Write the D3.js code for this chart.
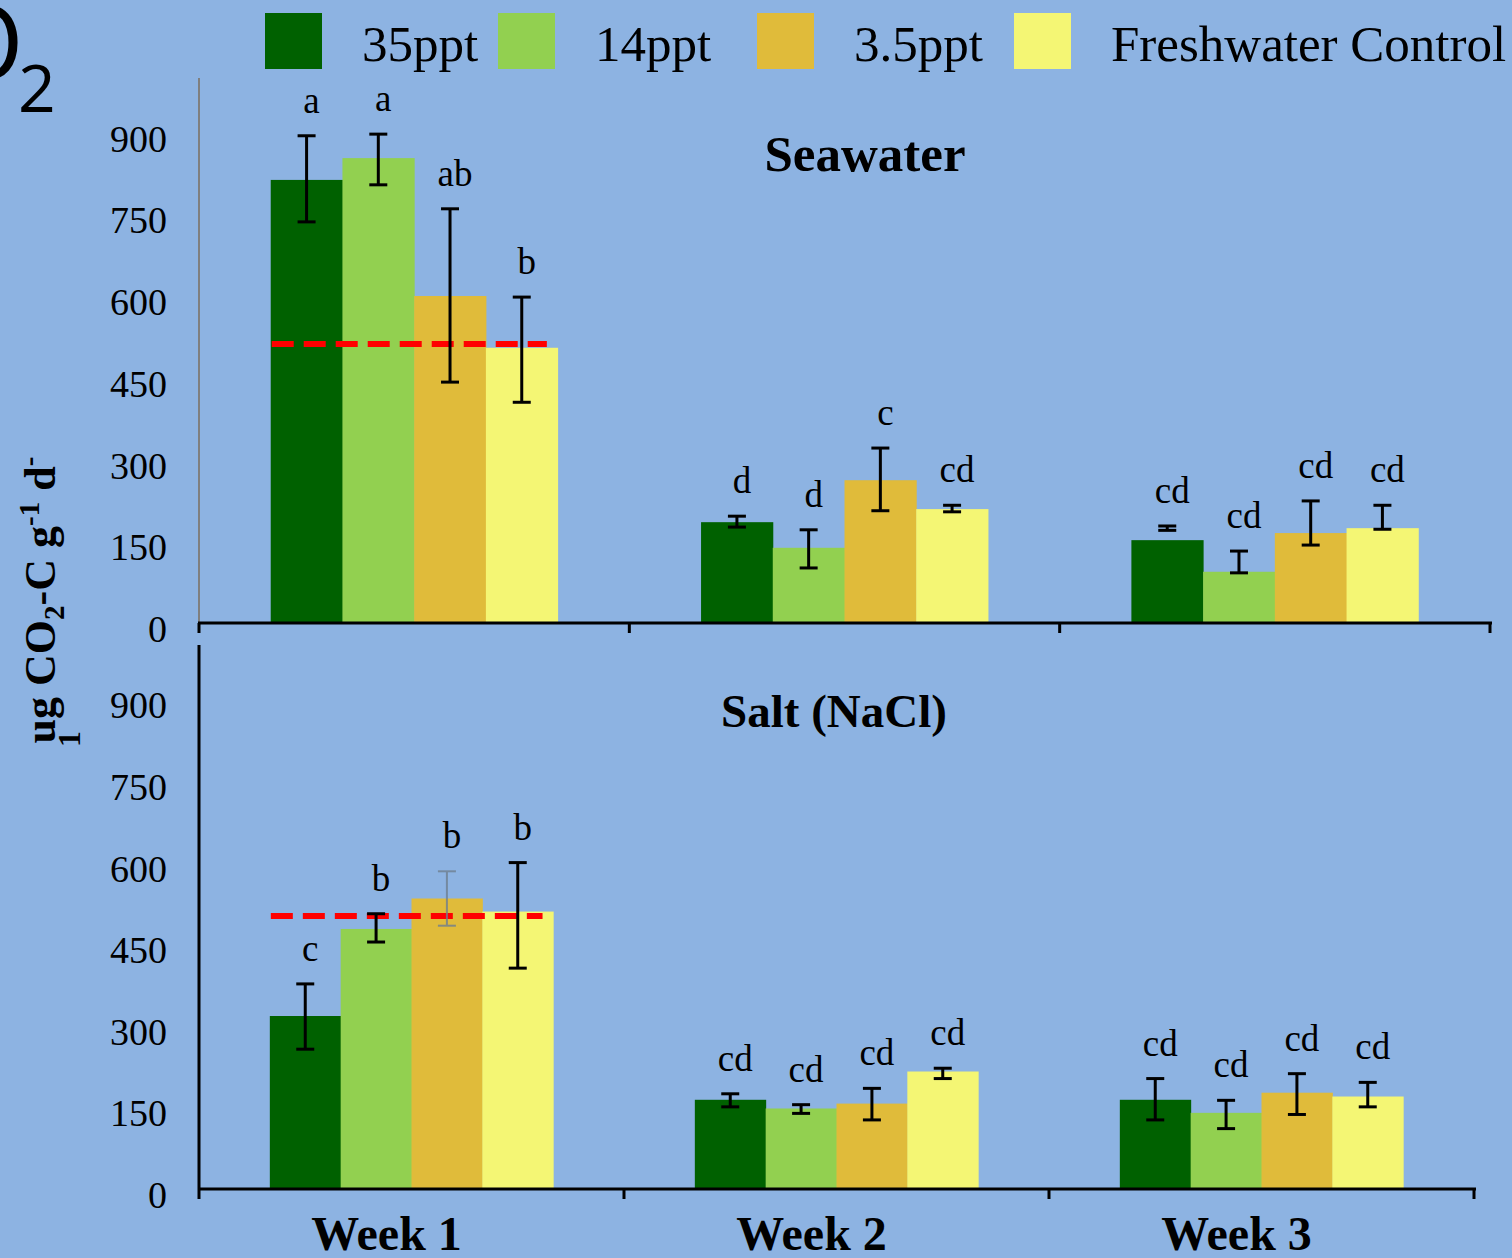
<!DOCTYPE html>
<html><head><meta charset="utf-8">
<script src="https://cdn.jsdelivr.net/npm/d3@7"></script>
<style>
html,body{margin:0;padding:0;background:#8DB3E2;}
svg{display:block;}
</style></head>
<body>
<svg id="chart" width="1512" height="1258"></svg>
<script>
// ---- data ----
const weeks = ["Week 1", "Week 2", "Week 3"];
const series = ["35ppt", "14ppt", "3.5ppt", "Freshwater Control"];
const colors = ["#006100", "#92D050", "#E0BB3A", "#F4F674"];
const yTicks = [0, 150, 300, 450, 600, 750, 900];

// Seawater panel (rows = weeks, columns = series)
const seaMeans = [[813, 853, 600, 505], [185, 138, 262, 209], [152, 94, 165, 174]];
const seaErrHi = [[894, 897, 760, 598], [196, 171, 321, 216], [178, 132, 224, 216]];
const seaErrLo = [[736, 804, 442, 405], [176, 101, 206, 204], [170, 92, 143, 172]];
const seaLetters = [["a", "a", "ab", "b"], ["d", "d", "c", "cd"], ["cd", "cd", "cd", "cd"]];
const seaRef = 512;

// Salt (NaCl) panel
const saltMeans = [[318, 478, 534, 510], [164, 148, 157, 216], [164, 140, 177, 170]];
const saltErrHi = [[377, 506, 584, 600], [175, 155, 185, 222], [203, 163, 212, 196]];
const saltErrLo = [[257, 454, 484, 406], [151, 139, 127, 203], [127, 111, 137, 151]];
const saltLetters = [["c", "b", "b", "b"], ["cd", "cd", "cd", "cd"], ["cd", "cd", "cd", "cd"]];
const saltRef = 502;

// ---- drawing ----
const svg = d3.select("#chart");
const SERIF = "'Liberation Serif', 'Times New Roman', serif";

svg.append("rect").attr("width", 1512).attr("height", 1258).attr("fill", "#8DB3E2");

function panel(opt) {
  const g = svg.append("g");
  const x0 = d3.scaleBand().domain(weeks).range([opt.left, opt.right]).padding(0);
  const x1 = d3.scaleBand().domain(series).range([0, x0.bandwidth()]).paddingInner(0).paddingOuter(1);
  const y = d3.scaleLinear().domain([0, 1000]).range([opt.base, opt.top]);

  // y axis line
  g.append("line").attr("x1", opt.left).attr("x2", opt.left)
    .attr("y1", opt.top).attr("y2", opt.base)
    .attr("stroke", opt.axisColor).attr("stroke-width", opt.axisWidth);

  // y tick labels
  g.selectAll("text.ytick").data(yTicks).enter().append("text")
    .attr("class", "ytick")
    .attr("x", 167).attr("y", d => y(d) + 6)
    .attr("text-anchor", "end").attr("dominant-baseline", "central")
    .attr("font-family", SERIF).attr("font-size", 38).attr("fill", "#000")
    .text(d => d);

  // bars
  weeks.forEach((w, wi) => {
    const gw = g.append("g").attr("transform", `translate(${x0(w)},0)`);
    series.forEach((s, si) => {
      const v = opt.means[wi][si];
      gw.append("rect")
        .attr("x", x1(s)).attr("width", x1.bandwidth() + 0.5)
        .attr("y", y(v)).attr("height", y(0) - y(v))
        .attr("fill", colors[si]);
    });
  });

  // reference dashed line (week 1)
  const w1 = x0(weeks[0]);
  g.append("line")
    .attr("x1", w1 + x1(series[0]) + 1)
    .attr("x2", w1 + x1(series[3]) + x1.bandwidth() * 0.85)
    .attr("y1", y(opt.ref)).attr("y2", y(opt.ref))
    .attr("stroke", "#FF0000").attr("stroke-width", 6)
    .attr("stroke-dasharray", "22,10");

  // error bars and letters
  weeks.forEach((w, wi) => {
    series.forEach((s, si) => {
      const cx = x0(w) + x1(s) + x1.bandwidth() / 2;
      const hi = y(opt.errHi[wi][si]), lo = y(opt.errLo[wi][si]);
      const faded = opt.faded && opt.faded[0] === wi && opt.faded[1] === si;
      const eg = g.append("g").attr("stroke", faded ? "#6f7f90" : "#000")
        .attr("stroke-width", faded ? 2 : 3).attr("opacity", faded ? 0.8 : 1);
      eg.append("line").attr("x1", cx).attr("x2", cx).attr("y1", hi).attr("y2", lo);
      eg.append("line").attr("x1", cx - 9).attr("x2", cx + 9).attr("y1", hi).attr("y2", hi);
      eg.append("line").attr("x1", cx - 9).attr("x2", cx + 9).attr("y1", lo).attr("y2", lo);
      g.append("text")
        .attr("x", cx + 5).attr("y", hi - 23)
        .attr("text-anchor", "middle")
        .attr("font-family", SERIF).attr("font-size", 37).attr("fill", "#000")
        .text(opt.letters[wi][si]);
    });
  });

  // x baseline with ticks
  g.append("line").attr("x1", opt.left - 1).attr("x2", opt.right + 2)
    .attr("y1", opt.base).attr("y2", opt.base)
    .attr("stroke", "#000").attr("stroke-width", 3);
  const tickXs = weeks.map(w => x0(w)).concat([opt.right]);
  g.selectAll("line.xt").data(tickXs).enter().append("line")
    .attr("class", "xt")
    .attr("x1", d => d).attr("x2", d => d)
    .attr("y1", opt.base).attr("y2", opt.base + 10)
    .attr("stroke", "#000").attr("stroke-width", 3);

  // panel title
  g.append("text")
    .attr("x", opt.titleX).attr("y", opt.titleY)
    .attr("text-anchor", "middle")
    .attr("font-family", SERIF).attr("font-weight", "bold").attr("font-size", opt.titleSize)
    .attr("fill", "#000").text(opt.title);

  return { x0 };
}

panel({
  left: 199, right: 1490, top: 78, base: 623,
  axisColor: "#7f7f7f", axisWidth: 2,
  means: seaMeans, errHi: seaErrHi, errLo: seaErrLo, letters: seaLetters, ref: seaRef,
  title: "Seawater", titleX: 865, titleY: 171, titleSize: 51
});

const bottom = panel({
  left: 199, right: 1474, top: 645, base: 1189,
  axisColor: "#000", axisWidth: 3,
  means: saltMeans, errHi: saltErrHi, errLo: saltErrLo, letters: saltLetters, ref: saltRef,
  faded: [0, 2],
  title: "Salt (NaCl)", titleX: 834, titleY: 727, titleSize: 47
});

// week labels
svg.selectAll("text.week").data(weeks).enter().append("text")
  .attr("class", "week")
  .attr("x", d => bottom.x0(d) + bottom.x0.bandwidth() / 2 - 25)
  .attr("y", 1250)
  .attr("text-anchor", "middle")
  .attr("font-family", SERIF).attr("font-weight", "bold").attr("font-size", 48)
  .attr("fill", "#000").text(d => d);

// y axis title (rotated)
const yt = svg.append("text")
  .attr("transform", "translate(55,600) rotate(-90)")
  .attr("text-anchor", "middle")
  .attr("font-family", SERIF).attr("font-weight", "bold").attr("font-size", 44)
  .attr("fill", "#000");
yt.append("tspan").text("ug CO");
yt.append("tspan").attr("font-size", 29).attr("dy", 9).text("2");
yt.append("tspan").attr("dy", -9).text("-C g");
yt.append("tspan").attr("font-size", 29).attr("dy", -16).text("-1");
yt.append("tspan").attr("dy", 16).text(" d");
yt.append("tspan").attr("font-size", 29).attr("dy", -16).text("-");
svg.append("text")
  .attr("transform", "translate(80,747) rotate(-90)")
  .attr("text-anchor", "start")
  .attr("font-family", SERIF).attr("font-weight", "bold").attr("font-size", 32)
  .attr("fill", "#000").text("1");

// clipped "O2" fragment at top-left
svg.append("text").attr("x", 24).attr("y", 80).attr("text-anchor", "end")
  .attr("font-family", "'Open Sans', 'Noto Sans', sans-serif").attr("font-size", 104)
  .attr("fill", "#000").text("O");
svg.append("text").attr("x", 18).attr("y", 112)
  .attr("font-family", "'Open Sans', 'Noto Sans', sans-serif").attr("font-size", 66)
  .attr("fill", "#000").text("2");

// legend
const legendX = [265, 498, 757, 1014];
const lg = svg.selectAll("g.leg").data(series).enter().append("g")
  .attr("class", "leg")
  .attr("transform", (d, i) => `translate(${legendX[i]},13)`);
lg.append("rect").attr("width", 57).attr("height", 56).attr("fill", (d, i) => colors[i]);
lg.append("text").attr("x", 97).attr("y", 48)
  .attr("font-family", SERIF).attr("font-size", 51).attr("fill", "#000")
  .text(d => d);
</script>
</body></html>
